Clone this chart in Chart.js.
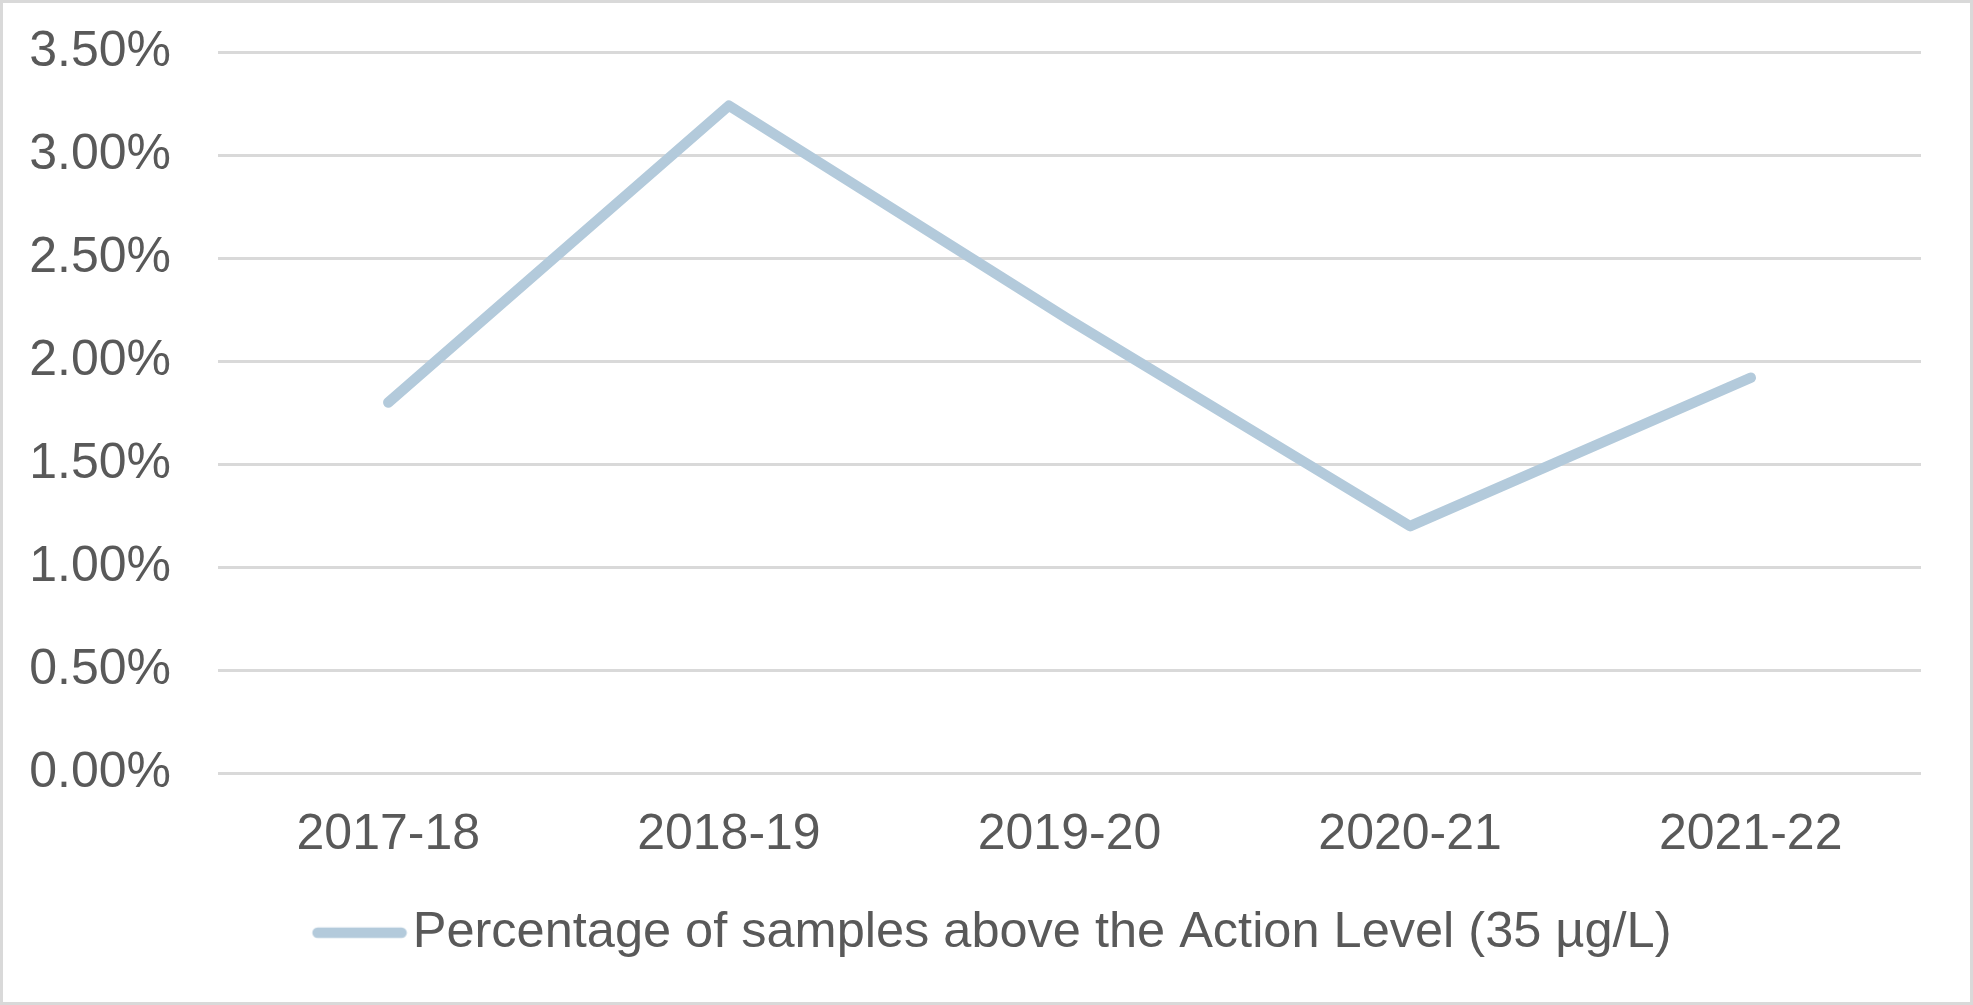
<!DOCTYPE html>
<html>
<head>
<meta charset="utf-8">
<script src="https://cdn.jsdelivr.net/npm/chart.js@4.4.0/dist/chart.umd.min.js"></script>
<style>
  html, body { margin: 0; padding: 0; background: #fff; }
  #wrap { width: 1973px; height: 1005px; box-sizing: border-box; border: 3px solid #d9d9d9; }
</style>
</head>
<body>
<div id="wrap"><canvas id="graph1"></canvas></div>
<script>
// values (percent)
const years = ['2017-18', '2018-19', '2019-20', '2020-21', '2021-22'];
const percentAbove = [1.80, 3.24, 2.20, 1.20, 1.92];
const seriesLabel = 'Percentage of samples above the Action Level (35 µg/L)';
const yMin = 0;
const yMax = 3.5;
const yStep = 0.5;

const textColor = '#595959';
const gridColor = '#d9d9d9';
const lineColor = '#b3cadb';
const fontFamily = "'Liberation Sans', Arial, sans-serif";
const lineWidth = 10.5;

// legend sample: a short line drawn on the right part of the box so it sits close to the text
function legendSample() {
    const c = document.createElement('canvas');
    c.width = 175;
    c.height = 20;
    const g = c.getContext('2d');
    g.strokeStyle = lineColor;
    g.lineWidth = lineWidth;
    g.lineCap = 'round';
    g.beginPath();
    g.moveTo(85, 10);
    g.lineTo(169, 10);
    g.stroke();
    return c;
}

const data1 = {
    labels: years,
    datasets: [{
        label: seriesLabel,
        data: percentAbove,
        borderColor: lineColor,
        backgroundColor: lineColor,
        borderWidth: lineWidth,
        borderCapStyle: 'round',
        borderJoinStyle: 'round',
        pointRadius: 0,
        pointHoverRadius: 0,
        tension: 0
    }]
};

const config = {
    type: 'line',
    data: data1,
    options: {
        responsive: true,
        maintainAspectRatio: false,
        animation: false,
        layout: {
            padding: { top: 49, right: 49, bottom: 34, left: 0 }
        },
        scales: {
            x: {
                offset: true,
                grid: { display: false, drawTicks: false },
                border: { display: false },
                ticks: {
                    color: textColor,
                    font: { family: fontFamily, size: 50 },
                    padding: 32,
                    maxRotation: 0
                },
                afterFit: (scale) => { scale.height = 124; }
            },
            y: {
                min: yMin,
                max: yMax,
                grid: {
                    color: gridColor,
                    lineWidth: 3,
                    drawTicks: true,
                    tickLength: 47,
                    tickColor: 'rgba(0,0,0,0)'
                },
                border: { display: false },
                ticks: {
                    stepSize: yStep,
                    color: textColor,
                    font: { family: fontFamily, size: 50 },
                    padding: 0,
                    callback: (value) => value.toFixed(2) + '%'
                },
                afterFit: (scale) => { scale.width = 215; }
            }
        },
        plugins: {
            tooltip: { enabled: false },
            legend: {
                position: 'bottom',
                labels: {
                    color: textColor,
                    font: { family: fontFamily, size: 50.5 },
                    usePointStyle: true,
                    pointStyle: legendSample(),
                    pointStyleWidth: 135,
                    padding: 10
                }
            }
        }
    }
};

const ctx = document.getElementById('graph1').getContext('2d');
new Chart(ctx, config);
</script>
</body>
</html>
